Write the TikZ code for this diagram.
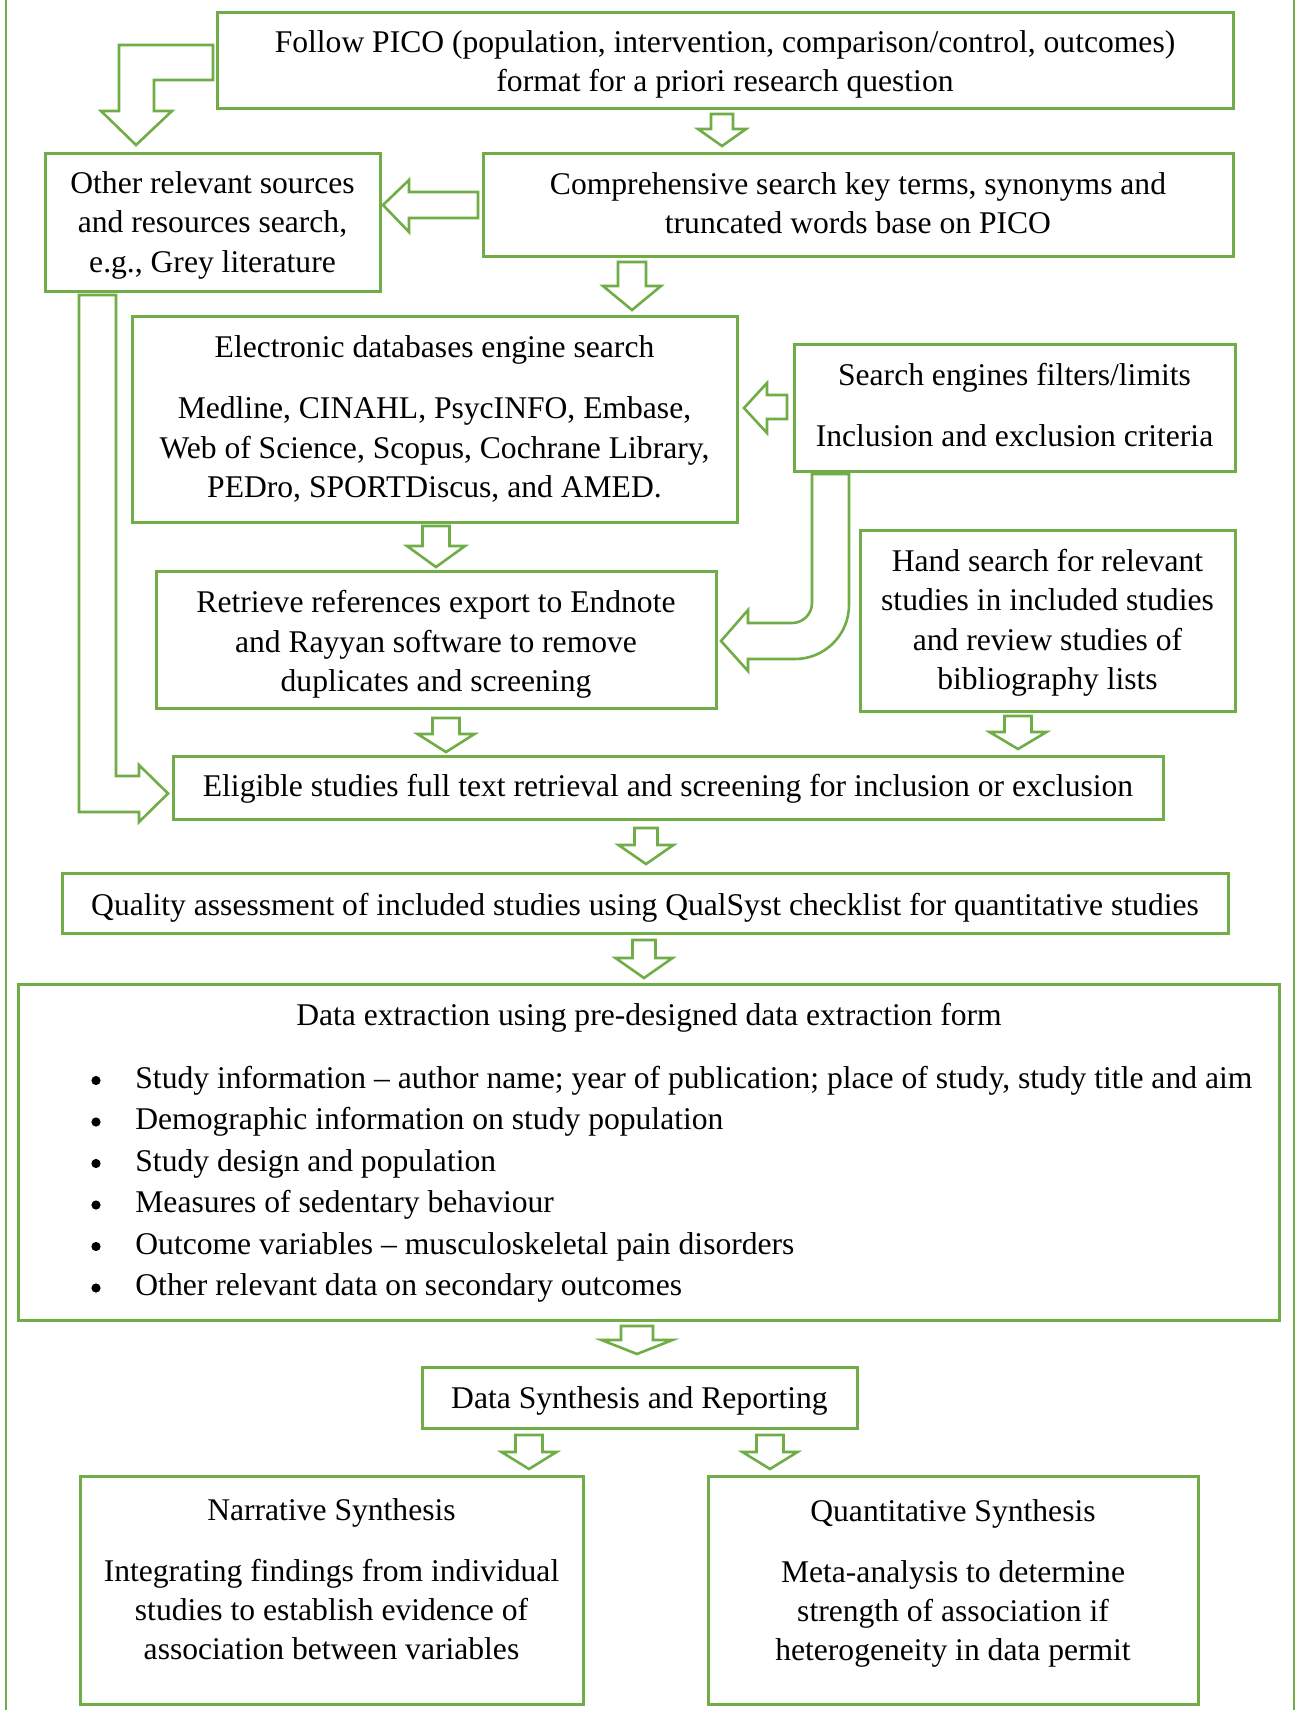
\documentclass[tikz,border=0pt]{standalone}
\usepackage{fontspec}
\setmainfont{Liberation Serif}
\usetikzlibrary{fit}
\definecolor{gr}{HTML}{70AD47}
\tikzset{
 box/.style={draw=gr, line width=1.5pt, inner sep=0pt, outer sep=0pt},
 blk/.style={draw=gr, line width=1.3pt, fill=white, line join=miter},
 txt/.style={font=\fontsize{15.8}{19.65}\selectfont, align=center, inner sep=0pt},
 ltxt/.style={font=\fontsize{15.8}{19.65}\selectfont, anchor=west, inner sep=0pt, text height=0.68em, text depth=0.22em},
 bul/.style={circle, fill=black, inner sep=0pt, minimum size=4.6pt},
 frame/.style={draw=gr, line width=1pt}
}
\newcommand\darr[6]{\draw[blk] ({#1-#5},#2) -- ({#1+#5},#2) -- ({#1+#5},#3) -- ({#1+#6},#3) -- (#1,#4) -- ({#1-#6},#3) -- ({#1-#5},#3) -- cycle;}
\begin{document}
\begin{tikzpicture}[x=0.5pt,y=-0.5pt]
\useasboundingbox (0,0) rectangle (1296,1710);
\fill[white] (0,0) rectangle (1296,1710);
\draw[frame] (6,0) -- (6,1710);
\draw[frame] (1294,0) -- (1294,1710);

% boxes
\node[box, fit={(217,12)(1233,108)}] (pico) {};
\node[txt, yshift=-2.2pt] (picot) at (pico.center) {Follow PICO (population, intervention, comparison/control, outcomes)\\format for a priori research question};
\node[box, fit={(45,153)(380,291)}] (other) {};
\node[txt, yshift=-1.65pt] (othert) at (other.center) {Other relevant sources\\and resources search,\\e.g., Grey literature};
\node[box, fit={(483,153)(1233,256)}] (comp) {};
\node[txt, yshift=0.8pt] (compt) at (comp.center) {Comprehensive search key terms, synonyms and\\truncated words base on PICO};
\node[box, fit={(132,316)(737,522)}] (elec) {};
\node[txt] (elect) at (elec.center) {Electronic databases engine search\\[10.85pt]Medline, CINAHL, PsycINFO, Embase,\\Web of Science, Scopus, Cochrane Library,\\PEDro, SPORTDiscus, and AMED.};
\node[box, fit={(794,344)(1235,471)}] (filt) {};
\node[txt, yshift=1.1pt] (filtt) at (filt.center) {Search engines filters/limits\\[10.85pt]Inclusion and exclusion criteria};
\node[box, fit={(156,571)(716,708)}] (retr) {};
\node[txt, yshift=-2.45pt] (retrt) at (retr.center) {Retrieve references export to Endnote\\and Rayyan software to remove\\duplicates and screening};
\node[box, fit={(860,530)(1235,711)}] (hand) {};
\node[txt, yshift=-1.1pt] (handt) at (hand.center) {Hand search for relevant\\studies in included studies\\and review studies of\\bibliography lists};
\node[box, fit={(173,756)(1163,819)}] (elig) {};
\node[txt, yshift=-0.5pt] (eligt) at (elig.center) {Eligible studies full text retrieval and screening for inclusion or exclusion};
\node[box, fit={(62,873)(1228,933)}] (qual) {};
\node[txt, yshift=-2.2pt] (qualt) at (qual.center) {Quality assessment of included studies using QualSyst checklist for quantitative studies};
\node[box, fit={(18,984)(1279,1320)}] (data) {};
\node[txt] (datat) at (649,1018.2) {Data extraction using pre-designed data extraction form};
\node[bul] (b1) at (96,1080.5) {};
\node[ltxt] (i1) at (135,1083.5) {Study information – author name; year of publication; place of study, study title and aim};
\node[bul] (b2) at (96,1122) {};
\node[ltxt] (i2) at (135,1125) {Demographic information on study population};
\node[bul] (b3) at (96,1163.5) {};
\node[ltxt] (i3) at (135,1166.5) {Study design and population};
\node[bul] (b4) at (96,1205) {};
\node[ltxt] (i4) at (135,1208) {Measures of sedentary behaviour};
\node[bul] (b5) at (96,1246.5) {};
\node[ltxt] (i5) at (135,1249.5) {Outcome variables – musculoskeletal pain disorders};
\node[bul] (b6) at (96,1288) {};
\node[ltxt] (i6) at (135,1291) {Other relevant data on secondary outcomes};
\node[box, fit={(422,1367)(857,1428)}] (synth) {};
\node[txt, yshift=-1.65pt] (syntht) at (synth.center) {Data Synthesis and Reporting};
\node[box, fit={(80,1476)(583,1704)}] (narr) {};
\node[txt] (narrt) at (331.5,1579) {Narrative Synthesis\\[10.85pt]Integrating findings from individual\\studies to establish evidence of\\association between variables};
\node[box, fit={(708,1476)(1198,1704)}] (quant) {};
\node[txt] (quantt) at (953,1583.3) {Quantitative Synthesis\\[10.85pt]Meta-analysis to determine\\strength of association if\\heterogeneity in data permit};

% small down block arrows
\darr{722}{114}{129}{146}{11}{24}
\darr{632}{262}{286}{310}{14}{29}
\darr{436}{526}{546}{567}{13.5}{29}
\darr{446}{718}{734}{752}{13.5}{28.5}
\darr{1018}{716}{732}{749}{13.5}{28.5}
\darr{646}{828}{845}{864}{11.5}{27.5}
\darr{644}{940}{958}{978}{11.5}{28.5}
\darr{637}{1326}{1340}{1354}{16}{35.5}
\darr{529}{1435}{1452}{1469}{13.5}{27.5}
\darr{770}{1435}{1452}{1469}{13.5}{27.5}

% left block arrows
\draw[blk] (478,192) -- (409,192) -- (409,180) -- (383,205) -- (409,232) -- (409,218) -- (478,218) -- cycle;
\draw[blk] (787,395) -- (767,395) -- (767,383) -- (744,408) -- (767,433) -- (767,419) -- (787,419) -- cycle;

% bent arrow PICO -> other
\draw[blk] (213,45) -- (119,45) -- (119,111) -- (101,111) -- (136,145) -- (172,111) -- (154,111) -- (154,80) -- (213,80) -- cycle;

% long L arrow other -> eligible
\draw[blk] (79,295) -- (116,295) -- (116,776) -- (139,776) -- (139,765) -- (168,793.5) -- (139,822) -- (139,812) -- (79,812) -- cycle;

% curved arrow filters -> retrieve
\draw[blk] (812,474) -- (849,474) -- (849,605) .. controls (849,634.8) and (824.8,659) .. (795,659) -- (748,659) -- (748,671) -- (721,641) -- (748,610) -- (748,623) -- (792,623) .. controls (803,623) and (812,614) .. (812,603) -- cycle;
\end{tikzpicture}
\end{document}
